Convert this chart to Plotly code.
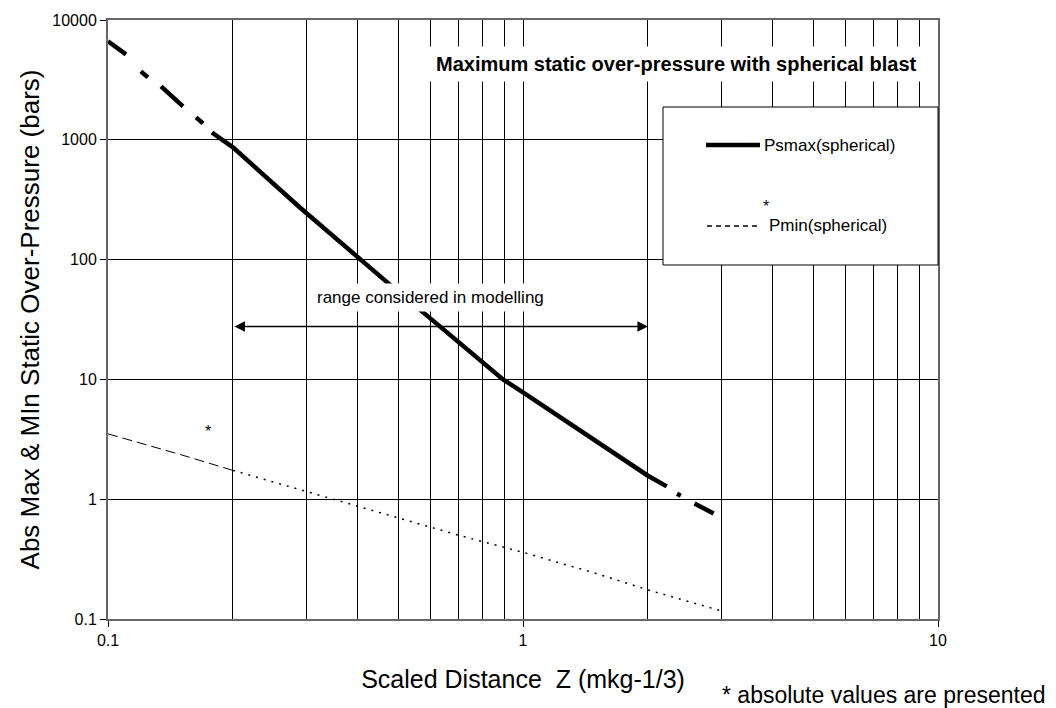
import math
import plotly.graph_objects as go

# Psmax (spherical); None marks a break in the plotted curve
psmax_z = [0.100, 0.1105, None,
           0.120, 0.1248, None,
           0.1342, 0.1516, None,
           0.1630, 0.1694, None,
           0.178, 0.188, 0.200, 0.290, 0.404, 0.500, 0.600, 0.700, 0.800,
           0.895, 1.00, 1.50, 2.00, 2.22, None,
           2.35, 2.40, None,
           2.59, 2.88]
psmax_p = [6640, 5170, None,
           3725, 3320, None,
           2790, 1900, None,
           1540, 1370, None,
           1150, 1000, 865, 272, 100, 54, 32, 20.3, 14.0,
           10.0, 7.8, 3.05, 1.57, 1.28, None,
           1.11, 1.07, None,
           0.92, 0.76]

# Pmin (spherical), absolute values
pmin_head_z = [0.10, 0.15, 0.20]
pmin_head_p = [3.51, 2.35, 1.74]

pmin_tail_z = [0.20, 0.30, 0.40, 0.50, 0.70, 1.00, 1.50, 2.00, 3.00]
pmin_tail_p = [1.74, 1.16, 0.87, 0.70, 0.50, 0.36, 0.24, 0.175, 0.117]

x_ticks = [0.1, 1, 10]
x_tick_text = ["0.1", "1", "10"]
x_minor = [0.2, 0.3, 0.4, 0.5, 0.6, 0.7, 0.8, 0.9, 2, 3, 4, 5, 6, 7, 8, 9]
y_ticks = [0.1, 1, 10, 100, 1000, 10000]
y_tick_text = ["0.1", "1", "10", "100", "1000", "10000"]

range_lo, range_hi = 0.2, 2.0
range_arrow_level = 27.6

FONT = "Liberation Sans, Arial, sans-serif"
W, H = 1056, 708
ML, MR, MT, MB = 108, 118, 20, 89
PW, PH = W - ML - MR, H - MT - MB


def px(xp):
    return (xp - ML) / PW


def py(yp):
    return (H - MB - yp) / PH


fig = go.Figure()

fig.add_trace(go.Scatter(
    x=psmax_z, y=psmax_p, mode="lines", connectgaps=False,
    line=dict(color="black", width=4.5), name="Psmax(spherical)"))
fig.add_trace(go.Scatter(
    x=pmin_head_z, y=pmin_head_p, mode="lines",
    line=dict(color="black", width=1, dash="10px,5px"),
    hoverinfo="skip"))
fig.add_trace(go.Scatter(
    x=pmin_tail_z, y=pmin_tail_p, mode="lines",
    line=dict(color="black", width=1.5, dash="2px,6px"),
    name="Pmin(spherical)"))

axis_line = "#666666"
fig.update_xaxes(
    type="log", range=[-1, 1],
    tickvals=x_ticks, ticktext=x_tick_text,
    ticks="outside", ticklen=6, tickcolor="black", tickwidth=1,
    tickfont=dict(family=FONT, size=16, color="black"),
    showgrid=True, gridcolor="black", gridwidth=1,
    minor=dict(tickvals=x_minor, showgrid=True, gridcolor="black",
               gridwidth=1, ticks=""),
    showline=True, linecolor=axis_line, linewidth=2, mirror=True,
    zeroline=False,
    title=dict(text="Scaled Distance  Z (mkg-1/3)",
               font=dict(family=FONT, size=25, color="black"), standoff=22),
)
fig.update_yaxes(
    type="log", range=[-1, 4],
    tickvals=y_ticks, ticktext=y_tick_text,
    ticks="outside", ticklen=6, tickcolor="black", tickwidth=1,
    tickfont=dict(family=FONT, size=16, color="black"),
    showgrid=True, gridcolor="black", gridwidth=1,
    showline=True, linecolor=axis_line, linewidth=2, mirror=True,
    zeroline=False,
    title=dict(text="Abs Max & MIn Static Over-Pressure (bars)",
               font=dict(family=FONT, size=26, color="black"), standoff=5),
)

annotations = [
    # chart title in the upper right of the plot area
    dict(text="<b>Maximum static over-pressure with spherical blast</b>",
         xref="paper", yref="paper", x=px(924), y=py(64),
         xanchor="right", yanchor="middle", showarrow=False,
         bgcolor="white", borderpad=6,
         font=dict(family=FONT, size=20, color="black")),
    # modelling range label and double arrow
    dict(text="range considered in modelling",
         xref="paper", yref="paper", x=px(430), y=py(297),
         xanchor="center", yanchor="middle", showarrow=False,
         bgcolor="white", borderpad=4,
         font=dict(family=FONT, size=17, color="black")),
    dict(text="", x=math.log10(range_hi), y=math.log10(range_arrow_level),
         ax=math.log10(range_lo), ay=math.log10(range_arrow_level),
         xref="x", yref="y", axref="x", ayref="y",
         showarrow=True, arrowside="end+start", arrowhead=2,
         arrowsize=1.4, arrowwidth=1.5, arrowcolor="black",
         standoff=0, startstandoff=0),
    # asterisk next to the Pmin curve
    dict(text="*", x=math.log10(0.174), y=math.log10(3.66),
         xref="x", yref="y", showarrow=False,
         font=dict(family=FONT, size=16, color="black")),
    # legend entries
    dict(text="Psmax(spherical)", xref="paper", yref="paper",
         x=px(762), y=py(145), xanchor="left", yanchor="middle",
         showarrow=False, font=dict(family=FONT, size=17, color="black")),
    dict(text="*", xref="paper", yref="paper",
         x=px(766), y=py(207), xanchor="center", yanchor="middle",
         showarrow=False, font=dict(family=FONT, size=16, color="black")),
    dict(text="Pmin(spherical)", xref="paper", yref="paper",
         x=px(767), y=py(226), xanchor="left", yanchor="middle",
         showarrow=False, font=dict(family=FONT, size=17, color="black")),
    # footnote
    dict(text="* absolute values are presented", xref="paper", yref="paper",
         x=px(720), y=py(695), xanchor="left", yanchor="middle",
         showarrow=False, font=dict(family=FONT, size=23, color="black")),
]

shapes = [
    dict(type="rect", xref="paper", yref="paper",
         x0=px(663), x1=px(938), y0=py(265), y1=py(107),
         fillcolor="white", line=dict(color="black", width=1), layer="above"),
    dict(type="line", xref="paper", yref="paper",
         x0=px(706), x1=px(760), y0=py(145), y1=py(145),
         line=dict(color="black", width=4.5), layer="above"),
    dict(type="line", xref="paper", yref="paper",
         x0=px(707), x1=px(760), y0=py(226), y1=py(226),
         line=dict(color="black", width=1.3, dash="5px,4px"), layer="above"),
]

fig.update_layout(
    width=W, height=H,
    margin=dict(l=ML, r=MR, t=MT, b=MB, autoexpand=False),
    paper_bgcolor="white", plot_bgcolor="white",
    showlegend=False,
    font=dict(family=FONT, color="black"),
    annotations=annotations, shapes=shapes,
)

fig.write_html("out.html")
